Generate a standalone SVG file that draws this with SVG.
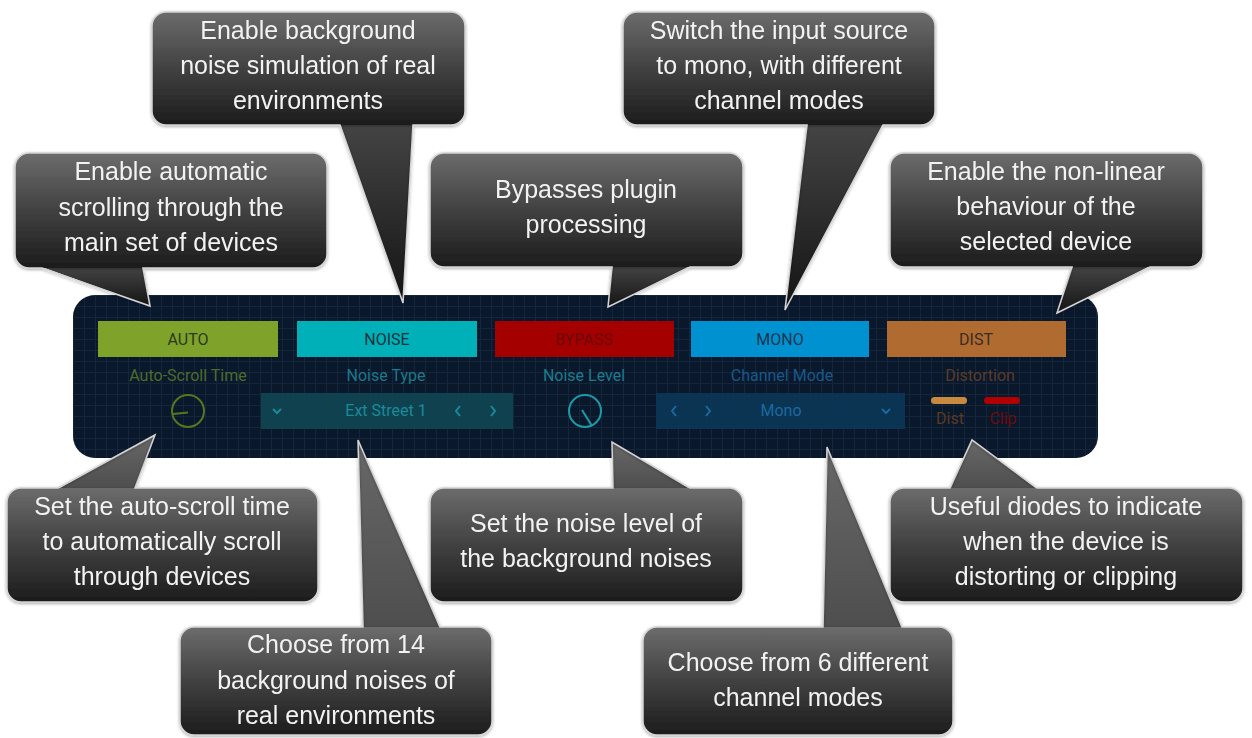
<svg xmlns="http://www.w3.org/2000/svg" width="1252" height="738" viewBox="0 0 1252 738">
<defs>
<style>
.ct{font-family:"Liberation Sans",Arial,sans-serif;font-size:25px;fill:#f2f2f2;text-anchor:middle}
.btn{font-family:Roboto,"Liberation Sans",sans-serif;font-size:16px;text-anchor:middle}
.lbl{font-family:Roboto,"Liberation Sans",sans-serif;font-size:16px;text-anchor:middle}
.box{fill:url(#gBox)}
.pd{fill:url(#gPD)}
.pu{fill:url(#gPU)}
.ol{fill:none;stroke:#d4d4d4;stroke-width:1.5}
.co{filter:url(#sh)}
</style>
<linearGradient id="gBox" x1="0" y1="0" x2="0" y2="1">
<stop offset="0" stop-color="#6c6c6c"/>
<stop offset="0.5" stop-color="#414141"/>
<stop offset="1" stop-color="#1c1c1c"/>
</linearGradient>
<linearGradient id="gPD" x1="0" y1="0" x2="0" y2="1">
<stop offset="0" stop-color="#444444"/>
<stop offset="1" stop-color="#141414"/>
</linearGradient>
<linearGradient id="gPU" x1="0" y1="0" x2="0" y2="1">
<stop offset="0" stop-color="#686868"/>
<stop offset="1" stop-color="#4e4e4e"/>
</linearGradient>
<pattern id="grid" width="11" height="11" patternUnits="userSpaceOnUse" x="73" y="295">
<path d="M0 0.5H11M0.5 0V11" stroke="#22344f" stroke-width="1" fill="none"/>
</pattern>
<filter id="sh" x="-10%" y="-10%" width="120%" height="120%">
<feDropShadow dx="0" dy="1" stdDeviation="1.5" flood-color="#000" flood-opacity="0.35"/>
</filter>
</defs>
<rect width="1252" height="738" fill="#ffffff"/>

<g id="panel">
<rect x="73" y="295" width="1025" height="163" rx="22" fill="#0a182c"/>
<rect x="73" y="295" width="1025" height="163" rx="22" fill="url(#grid)" opacity="0.45"/>
<g id="btn-auto"><rect x="98" y="321" width="180" height="36" fill="#7fa32a"/><text class="btn" x="188" y="345" fill="#2b3a1c">AUTO</text></g>
<g id="btn-noise"><rect x="297" y="321" width="180" height="36" fill="#00b0b9"/><text class="btn" x="387" y="345" fill="#17333a">NOISE</text></g>
<g id="btn-bypass"><rect x="495" y="321" width="179" height="36" fill="#a50000"/><text class="btn" x="584" y="345" fill="#6e0606">BYPASS</text></g>
<g id="btn-mono"><rect x="691" y="321" width="178" height="36" fill="#0092d0"/><text class="btn" x="780" y="345" fill="#1b3550">MONO</text></g>
<g id="btn-dist"><rect x="887" y="321" width="179" height="36" fill="#b06b30"/><text class="btn" x="976" y="345" fill="#3a2c22">DIST</text></g>
<text class="lbl" x="188" y="381" fill="#4d6b2a">Auto-Scroll Time</text>
<text class="lbl" x="386" y="381" fill="#1a7888">Noise Type</text>
<text class="lbl" x="584" y="381" fill="#1a7c8c">Noise Level</text>
<text class="lbl" x="782" y="381" fill="#16588a">Channel Mode</text>
<text class="lbl" x="980" y="381" fill="#5a3c28">Distortion</text>
<g id="knob-auto" fill="none" stroke="#56761f" stroke-width="2"><circle cx="188" cy="411" r="16"/><path d="M173 414 L188 412.5"/></g>
<g id="noise-type">
<rect x="261" y="393" width="252" height="36" fill="#0f4752" opacity="0.9"/>
<path d="M273 409 l4 4 l4 -4" fill="none" stroke="#1a8a9a" stroke-width="2"/>
<text class="lbl" x="386" y="416" fill="#1a8a9a">Ext Street 1</text>
<path d="M460 406 l-4 5 l4 5 M491 406 l4 5 l-4 5" fill="none" stroke="#1a8a9a" stroke-width="2"/>
</g>
<g id="knob-level" fill="none" stroke="#1a9aa6" stroke-width="2"><circle cx="585" cy="411" r="16"/><path d="M582 410 L592 426"/></g>
<g id="channel-mode">
<rect x="656" y="393" width="249" height="36" fill="#0b3656" opacity="0.9"/>
<path d="M676 406 l-4 5 l4 5 M706 406 l4 5 l-4 5" fill="none" stroke="#1a6aa0" stroke-width="2"/>
<text class="lbl" x="781" y="416" fill="#1a6aa0">Mono</text>
<path d="M882 409 l4 4 l4 -4" fill="none" stroke="#1a6aa0" stroke-width="2"/>
</g>
<g id="diodes">
<rect x="931" y="397" width="36" height="7" rx="3.5" fill="#c98a40"/>
<rect x="984" y="397" width="36" height="7" rx="3.5" fill="#b00000"/>
<text class="lbl" x="950" y="424" fill="#5a3a22" font-size="15">Dist</text>
<text class="lbl" x="1003" y="424" fill="#6a0c0c" font-size="15">Clip</text>
</g>
</g>

<g id="connectors">
<polygon class="pd" points="42,267 143,267 150,306"/>
<polygon class="pd" points="340,124 413,124 403,303"/>
<polygon class="pd" points="612,266 690,266 608,307"/>
<polygon class="pd" points="807,124 883,124 785,310"/>
<polygon class="pd" points="1072,266 1150,266 1057,313"/>
<polygon class="pu" points="58,489 135,489 155,435"/>
<polygon class="pu" points="363,628 440,628 358,440"/>
<polygon class="pu" points="613,489 690,489 612,442"/>
<polygon class="pu" points="823,628 902,628 827,447"/>
<polygon class="pu" points="950,489 1037,489 972,440"/>
</g>

<g id="c1" class="co">
<rect class="box" x="15" y="153" width="312" height="115" rx="14"/>
<path class="ol" d="M29 153H313A14 14 0 0 1 327 167V254A14 14 0 0 1 313 268H143L150 306L42 268H29A14 14 0 0 1 15 254V167A14 14 0 0 1 29 153Z"/>
<text class="ct" x="171" y="180">Enable automatic</text>
<text class="ct" x="171" y="216">scrolling through the</text>
<text class="ct" x="171" y="251">main set of devices</text>
</g>
<g id="c2" class="co">
<rect class="box" x="152" y="12" width="313" height="113" rx="14"/>
<path class="ol" d="M166 12H451A14 14 0 0 1 465 26V111A14 14 0 0 1 451 125H413L403 303L340 125H166A14 14 0 0 1 152 111V26A14 14 0 0 1 166 12Z"/>
<text class="ct" x="308" y="39">Enable background</text>
<text class="ct" x="308" y="74">noise simulation of real</text>
<text class="ct" x="308" y="109">environments</text>
</g>
<g id="c3" class="co">
<rect class="box" x="430" y="153" width="313" height="114" rx="14"/>
<path class="ol" d="M444 153H729A14 14 0 0 1 743 167V253A14 14 0 0 1 729 267H690L608 307L612 267H444A14 14 0 0 1 430 253V167A14 14 0 0 1 444 153Z"/>
<text class="ct" x="586" y="198">Bypasses plugin</text>
<text class="ct" x="586" y="233">processing</text>
</g>
<g id="c4" class="co">
<rect class="box" x="623" y="12" width="312" height="113" rx="14"/>
<path class="ol" d="M637 12H921A14 14 0 0 1 935 26V111A14 14 0 0 1 921 125H883L785 310L807 125H637A14 14 0 0 1 623 111V26A14 14 0 0 1 637 12Z"/>
<text class="ct" x="779" y="39">Switch the input source</text>
<text class="ct" x="779" y="74">to mono, with different</text>
<text class="ct" x="779" y="109">channel modes</text>
</g>
<g id="c5" class="co">
<rect class="box" x="890" y="153" width="313" height="114" rx="14"/>
<path class="ol" d="M904 153H1189A14 14 0 0 1 1203 167V253A14 14 0 0 1 1189 267H1150L1057 313L1072 267H904A14 14 0 0 1 890 253V167A14 14 0 0 1 904 153Z"/>
<text class="ct" x="1046" y="180">Enable the non-linear</text>
<text class="ct" x="1046" y="215">behaviour of the</text>
<text class="ct" x="1046" y="250">selected device</text>
</g>
<g id="c6" class="co">
<rect class="box" x="7" y="488" width="311" height="114" rx="14"/>
<path class="ol" d="M21 488H58L155 435L135 488H304A14 14 0 0 1 318 502V588A14 14 0 0 1 304 602H21A14 14 0 0 1 7 588V502A14 14 0 0 1 21 488Z"/>
<text class="ct" x="162" y="515">Set the auto-scroll time</text>
<text class="ct" x="162" y="550">to automatically scroll</text>
<text class="ct" x="162" y="585">through devices</text>
</g>
<g id="c7" class="co">
<rect class="box" x="180" y="627" width="312" height="108" rx="14"/>
<path class="ol" d="M194 627H363L358 440L440 627H478A14 14 0 0 1 492 641V721A14 14 0 0 1 478 735H194A14 14 0 0 1 180 721V641A14 14 0 0 1 194 627Z"/>
<text class="ct" x="336" y="653">Choose from 14</text>
<text class="ct" x="336" y="689">background noises of</text>
<text class="ct" x="336" y="724">real environments</text>
</g>
<g id="c8" class="co">
<rect class="box" x="430" y="488" width="313" height="114" rx="14"/>
<path class="ol" d="M444 488H613L612 442L690 488H729A14 14 0 0 1 743 502V588A14 14 0 0 1 729 602H444A14 14 0 0 1 430 588V502A14 14 0 0 1 444 488Z"/>
<text class="ct" x="586" y="532">Set the noise level of</text>
<text class="ct" x="586" y="567">the background noises</text>
</g>
<g id="c9" class="co">
<rect class="box" x="643" y="627" width="310" height="108" rx="14"/>
<path class="ol" d="M657 627H823L827 447L902 627H939A14 14 0 0 1 953 641V721A14 14 0 0 1 939 735H657A14 14 0 0 1 643 721V641A14 14 0 0 1 657 627Z"/>
<text class="ct" x="798" y="671">Choose from 6 different</text>
<text class="ct" x="798" y="706">channel modes</text>
</g>
<g id="c10" class="co">
<rect class="box" x="890" y="488" width="353" height="114" rx="14"/>
<path class="ol" d="M904 488H950L972 440L1037 488H1229A14 14 0 0 1 1243 502V588A14 14 0 0 1 1229 602H904A14 14 0 0 1 890 588V502A14 14 0 0 1 904 488Z"/>
<text class="ct" x="1066" y="515">Useful diodes to indicate</text>
<text class="ct" x="1066" y="550">when the device is</text>
<text class="ct" x="1066" y="585">distorting or clipping</text>
</g>
</svg>
